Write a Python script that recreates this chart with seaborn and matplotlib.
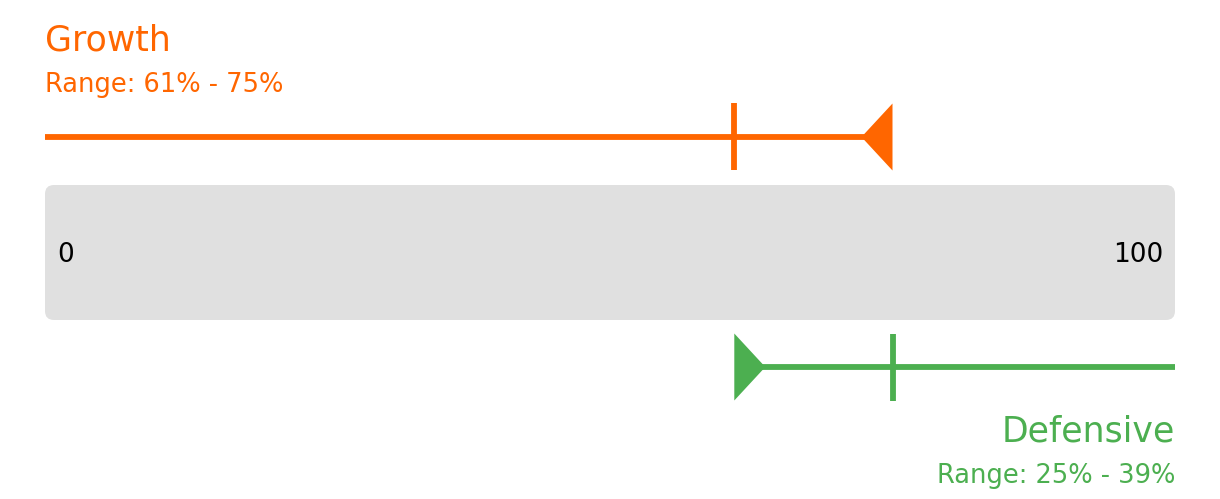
import numpy as np
import pandas as pd
import seaborn as sns
import matplotlib.pyplot as plt
from matplotlib.patches import FancyBboxPatch, Polygon

# data
scale_min, scale_max = 0, 100
growth_label = "Growth"
growth_range = [61, 75]
defensive_label = "Defensive"
defensive_range = [25, 39]

orange = "#ff6600"
green = "#4caf50"

sns.set_theme(style="white")
plt.rcParams['font.family'] = ['DejaVu Sans']

W, H = 1220, 499
fig = plt.figure(figsize=(W / 100, H / 100), dpi=100)
ax = fig.add_axes([0, 0, 1, 1])
left_px, right_px = 45, 1175
upp = (scale_max - scale_min) / (right_px - left_px)  # units per pixel
ax.set_xlim(scale_min - left_px * upp, scale_max + (W - right_px) * upp)
ax.set_ylim(H, 0)
ax.axis('off')

# grey scale band
band = FancyBboxPatch((scale_min, 185), scale_max - scale_min, 135,
                      boxstyle="round,pad=0,rounding_size=%f" % (9 * upp),
                      mutation_aspect=1 / upp, fc="#e0e0e0", ec="none")
ax.add_patch(band)
ax.text(scale_min + 12 * upp, 255, str(scale_min), ha='left', va='center',
        fontsize=19, color='black')
ax.text(scale_max - 12 * upp, 255, str(scale_max), ha='right', va='center',
        fontsize=19, color='black')

lw = 4.2
tri_w, tri_h = 31 * upp, 67

# growth: measured from the left
g_lo, g_hi = growth_range
gy = 137
sns.lineplot(x=[scale_min, g_hi - tri_w / 2], y=[gy, gy], color=orange, lw=lw,
             estimator=None, sort=False, solid_capstyle='butt', ax=ax)
sns.lineplot(x=[g_lo, g_lo], y=[gy - 34, gy + 33], color=orange, lw=lw,
             estimator=None, sort=False, solid_capstyle='butt', ax=ax)
ax.add_patch(Polygon([(g_hi, gy - tri_h / 2), (g_hi, gy + tri_h / 2),
                      (g_hi - tri_w, gy)], closed=True, fc=orange, ec='none'))
ax.text(scale_min, 50, growth_label, ha='left', va='baseline', fontsize=25, color=orange)
ax.text(scale_min, 92, "Range: %d%% - %d%%" % (g_lo, g_hi), ha='left',
        va='baseline', fontsize=18.5, color=orange)

# defensive: measured from the right
d_lo, d_hi = defensive_range
dy = 367
d_start = scale_max - d_hi
d_tick = scale_max - d_lo
sns.lineplot(x=[d_start + tri_w / 2, scale_max], y=[dy, dy], color=green, lw=lw,
             estimator=None, sort=False, solid_capstyle='butt', ax=ax)
sns.lineplot(x=[d_tick, d_tick], y=[dy - 33, dy + 34], color=green, lw=lw,
             estimator=None, sort=False, solid_capstyle='butt', ax=ax)
ax.add_patch(Polygon([(d_start, dy - tri_h / 2), (d_start, dy + tri_h / 2),
                      (d_start + tri_w, dy)], closed=True, fc=green, ec='none'))
ax.text(scale_max, 442, defensive_label, ha='right', va='baseline', fontsize=25, color=green)
ax.text(scale_max, 483, "Range: %d%% - %d%%" % (d_lo, d_hi), ha='right',
        va='baseline', fontsize=18.5, color=green)

plt.savefig('out.png', dpi=100)
